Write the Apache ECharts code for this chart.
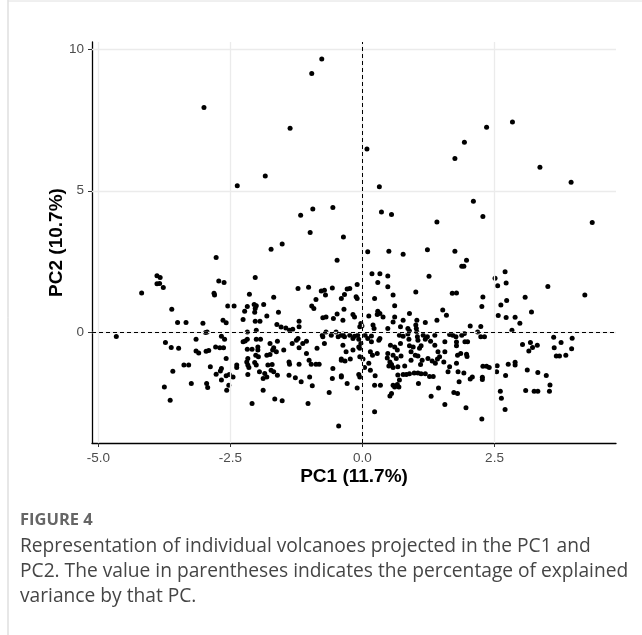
<!DOCTYPE html>
<html lang="en">
<head>
    <meta charset="UTF-8">
    <title>Figure 4 - PCA individuals</title>
    <style>
        html, body {
            margin: 0;
            padding: 0;
            background: #ffffff;
        }
        #chart {
            width: 642px;
            height: 635px;
        }
    </style>
</head>
<body>
    <div id="chart"></div>

    <script src="https://cdn.jsdelivr.net/npm/echarts@6/dist/echarts.min.js"></script>
    <script>
        // tick values for both axes
        var pc1Ticks = [-5, -2.5, 0, 2.5];
        var pc2Ticks = [0, 5, 10];

        var pc1Title = 'PC1 (11.7%)';
        var pc2Title = 'PC2 (10.7%)';

        // individual volcano scores [PC1, PC2]
        var volcanoScores = [
            // outliers up top
            [-3.00, 7.94], [-0.77, 9.65], [-0.96, 9.14], [-1.37, 7.21], [-1.84, 5.52], [-2.37, 5.18],
            [-1.17, 4.14], [-0.94, 4.36], [-0.56, 4.41], [-0.99, 3.53], [-0.36, 3.37],
            [0.085, 6.47], [1.75, 6.14], [1.93, 6.71], [0.32, 5.14], [0.36, 4.25], [0.55, 4.16], [1.41, 3.90],
            [2.35, 7.24], [2.84, 7.43], [3.36, 5.83], [3.95, 5.30], [4.35, 3.88], [2.10, 4.63], [2.28, 4.09],
            // right side
            [1.75, 2.87], [1.97, 2.55], [1.88, 2.34], [1.92, 2.34], [1.78, 1.39], [2.51, 1.91], [2.56, 1.65],
            [2.70, 2.14], [2.72, 1.75], [3.51, 1.62], [4.21, 1.32], [2.28, 1.25], [2.26, 0.92], [2.62, 0.97],
            [2.73, 1.13], [3.08, 1.24], [3.20, 0.72], [2.57, 0.60], [2.72, 0.53], [2.89, 0.54], [2.98, 0.33],
            [2.83, 0.08], [2.04, 0.23], [2.24, 0.21], [2.18, 0.02], [1.93, -0.04], [2.24, -0.15], [2.31, -0.15],
            [1.77, -0.15], [1.78, -0.34], [1.78, -0.47], [1.94, -0.33], [1.99, -0.33], [3.03, -0.42], [3.18, -0.35],
            [3.31, -0.45], [3.22, -0.53], [3.15, -0.65], [3.62, -0.17], [3.76, -0.35], [3.97, -0.20], [3.63, -0.54],
            [3.96, -0.57], [3.67, -0.83], [3.73, -0.83], [3.85, -0.80], [1.86, -0.74], [1.97, -0.77], [1.98, -0.85],
            [2.28, -1.19], [2.35, -1.19], [2.40, -1.24], [2.55, -1.17], [2.54, -1.39], [2.76, -1.12], [2.89, -1.05],
            [2.89, -1.15], [2.71, -1.52], [3.12, -1.32], [3.32, -1.41], [3.48, -1.52], [3.55, -1.85], [3.54, -2.07],
            [3.09, -2.05], [3.25, -2.07], [3.32, -2.07], [1.92, -1.43], [1.83, -1.74], [2.04, -1.64], [2.08, -1.57],
            [2.27, -1.58], [2.27, -1.66], [1.80, -2.15], [2.61, -2.07], [2.63, -2.32], [1.96, -2.66], [2.70, -2.72],
            [2.26, -3.05],
            // far left
            [-2.77, 2.65], [-3.89, 2.00], [-3.83, 1.94], [-3.89, 1.72], [-3.84, 1.73], [-3.77, 1.59], [-4.18, 1.39],
            [-2.80, 1.32], [-2.81, 1.38], [-3.61, 0.82], [-3.50, 0.35], [-3.34, 0.35], [-3.02, 0.33], [-2.97, 0.00],
            [-2.94, 0.02], [-4.66, -0.14], [-3.15, -0.24], [-3.73, -0.35], [-3.62, -0.53], [-3.48, -0.56],
            [-3.15, -0.65], [-3.10, -0.72], [-2.96, -0.66], [-2.91, -0.64], [-2.78, -0.51], [-3.38, -1.15],
            [-3.29, -1.15], [-3.59, -1.37], [-2.88, -1.21], [-2.77, -1.47], [-3.24, -1.80], [-2.95, -1.80],
            [-2.93, -1.94], [-3.75, -1.92], [-3.64, -2.39],
            // left of centre, above zero
            [-1.73, 2.94], [-1.52, 3.12], [-0.48, 2.55], [-2.03, 1.94], [-2.72, 1.82], [-2.62, 1.76], [-2.14, 1.35],
            [-1.68, 1.24], [-1.22, 1.55], [-1.02, 1.60], [-0.78, 1.46], [-0.72, 1.49], [-0.70, 1.32], [-0.88, 1.16],
            [-0.57, 1.57], [-0.40, 1.20], [-0.96, 0.93], [-0.92, 0.85], [-2.55, 0.93], [-2.43, 0.93], [-2.18, 0.92],
            [-2.23, 0.75], [-2.05, 0.99], [-2.01, 0.94], [-2.03, 0.85], [-2.04, 0.71], [-1.87, 0.99], [-1.81, 0.58],
            [-1.59, 0.71], [-2.64, 0.43], [-2.58, 0.34], [-2.26, 0.46], [-2.03, 0.40], [-1.94, 0.40], [-1.62, 0.28],
            [-1.54, 0.19], [-1.45, 0.16], [-1.38, 0.08], [-1.32, 0.11], [-1.20, 0.40], [-1.20, 0.20], [-0.75, 0.52],
            [-0.69, 0.55], [-0.55, 0.49], [-0.48, 0.65], [-2.67, -0.13], [-2.18, 0.02], [-2.01, 0.08], [-0.76, -0.10],
            [-0.69, 0.02], [-0.59, -0.10], [-0.50, 0.02], [-0.40, -0.10], [-2.61, -0.24], [-2.18, -0.24],
            [-2.01, -0.24], [-1.93, -0.24],
            // left of centre, below zero
            [-2.70, -0.54], [-2.63, -0.54], [-2.58, -0.92], [-2.67, -1.27], [-2.69, -1.36], [-2.67, -1.68],
            [-2.58, -1.53], [-2.52, -1.48], [-2.45, -1.57], [-2.53, -1.86], [-2.57, -2.04], [-2.38, -1.15],
            [-2.38, -1.24], [-2.26, -0.33], [-2.22, -0.30], [-2.18, -0.59], [-2.09, -0.59], [-2.17, -0.92],
            [-2.19, -1.04], [-2.17, -1.15], [-2.15, -1.24], [-2.17, -1.48], [-1.98, -0.51], [-1.98, -0.62],
            [-2.02, -0.80], [-1.97, -0.86], [-2.01, -1.15], [-2.04, -1.06], [-1.95, -1.39], [-1.85, -1.45],
            [-1.81, -1.57], [-1.88, -1.62], [-1.88, -2.04], [-2.09, -2.51], [-1.75, -0.39], [-1.68, -0.54],
            [-1.63, -0.68], [-1.70, -0.62], [-1.61, -0.31], [-1.81, -0.80], [-1.75, -0.78], [-1.79, -1.15],
            [-1.71, -1.13], [-1.73, -1.33], [-1.68, -1.39], [-1.61, -1.51], [-1.66, -2.35], [-1.52, -2.41],
            [-1.49, -0.62], [-1.39, -1.04], [-1.38, -1.12], [-1.39, -1.51], [-1.33, -0.39], [-1.25, -0.27],
            [-1.22, -0.21], [-1.20, -0.54], [-1.20, -1.12], [-1.27, -1.60], [-1.16, -1.74], [-1.13, -0.39],
            [-1.06, -0.31], [-1.06, -0.74], [-1.01, -0.98], [-0.97, -1.12], [-1.00, -1.57], [-0.95, -1.88],
            [-1.03, -2.51], [-0.86, -0.56], [-0.88, -1.12], [-0.82, -1.12], [-0.75, -0.15], [-0.72, -0.39],
            [-0.46, -0.15], [-0.40, -0.94], [-0.40, -1.53], [-0.56, -1.27], [-0.57, -1.62], [-0.63, -2.12],
            [-0.45, -3.30],
            // centre-right, above zero
            [0.10, 2.85], [0.50, 2.87], [0.77, 2.76], [1.23, 2.92], [0.18, 2.07], [0.33, 2.07], [0.48, 1.99],
            [0.29, 1.76], [0.48, 1.61], [1.26, 1.98], [-0.24, 1.55], [-0.29, 1.53], [-0.10, 1.69], [-0.34, 1.34],
            [-0.12, 1.26], [-0.10, 1.20], [0.23, 1.20], [0.58, 1.32], [1.01, 1.43], [1.70, 1.38], [0.61, 0.94],
            [-0.35, 0.82], [-0.18, 0.63], [-0.15, 0.55], [-0.37, 0.43], [0.12, 0.58], [0.29, 0.75], [0.33, 0.67],
            [0.28, 0.63], [0.39, 0.55], [0.61, 0.55], [0.58, 0.37], [0.89, 0.67], [0.77, 0.43], [1.03, 0.43],
            [1.01, 0.26], [1.19, 0.35], [1.41, 0.43], [1.52, 0.79], [1.59, 0.61], [-0.03, 0.32], [-0.01, 0.23],
            [-0.05, 0.20], [0.20, 0.26], [0.22, 0.14], [0.48, 0.14], [0.72, 0.20], [0.86, 0.14], [0.89, 0.05],
            [1.02, 0.14], [1.03, 0.02], [-0.37, -0.05], [-0.24, -0.10], [-0.15, -0.13], [-0.09, -0.10],
            [0.05, -0.10], [0.10, -0.21], [0.17, -0.12], [0.33, -0.21], [0.70, -0.10], [0.77, -0.13], [0.86, -0.05],
            [1.04, -0.15], [1.15, -0.10], [1.23, -0.15], [1.37, -0.10], [1.65, -0.07], [1.71, -0.10], [1.88, -0.10],
            // centre-right, below zero
            [-0.34, -0.15], [-0.18, -0.21], [-0.07, -0.24], [-0.37, -0.45], [-0.18, -0.62], [-0.31, -0.68],
            [-0.07, -0.51], [-0.05, -0.56], [-0.03, -0.39], [0.17, -0.33], [0.15, -0.68], [0.31, -0.27],
            [0.28, -0.74], [0.19, -0.80], [-0.40, -0.98], [-0.33, -1.01], [-0.23, -0.94], [-0.05, -0.86],
            [0.01, -0.94], [0.12, -1.09], [0.04, -1.24], [0.15, -1.33], [-0.40, -1.57], [-0.07, -1.48],
            [-0.05, -1.57], [-0.29, -1.80], [-0.10, -1.96], [0.24, -1.53], [0.23, -1.86], [0.34, -1.86],
            [0.23, -2.80], [0.53, -0.45], [0.61, -0.51], [0.66, -0.62], [0.48, -0.74], [0.58, -0.80], [0.64, -0.92],
            [0.47, -0.90], [0.52, -1.04], [0.55, -1.13], [0.58, -1.24], [0.50, -1.18], [0.67, -1.21], [0.80, -1.18],
            [0.72, -0.39], [0.73, -0.83], [0.88, -0.24], [0.89, -0.47], [0.96, -0.51], [0.92, -0.68], [1.00, -0.80],
            [1.05, -0.83], [0.92, -0.98], [1.05, -0.27], [1.11, -0.47], [1.08, -0.56], [1.19, -0.24], [1.29, -0.31],
            [1.24, -0.92], [1.32, -1.01], [1.38, -1.09], [1.13, -0.98], [1.10, -1.13], [1.37, -0.45], [1.43, -0.68],
            [1.46, -0.86], [1.42, -0.94], [1.56, -0.33], [1.56, -0.68], [1.54, -1.04], [1.65, -1.21], [1.62, -1.39],
            [1.80, -0.80], [1.78, -1.09], [1.81, -1.39], [0.67, -1.50], [0.77, -1.48], [0.83, -1.48], [0.89, -1.46],
            [0.98, -1.43], [1.05, -1.43], [1.11, -1.46], [1.19, -1.46], [1.27, -1.55], [1.34, -1.55], [0.70, -1.68],
            [0.66, -1.84], [0.58, -1.86], [0.61, -1.92], [0.69, -1.92], [0.55, -2.15], [0.52, -2.24], [1.06, -1.80],
            [1.30, -2.25], [1.44, -1.96], [1.56, -2.54], [1.73, -2.12]
        ];

        var captionLines = [
            'Representation of individual volcanoes projected in the PC1 and',
            'PC2. The value in parentheses indicates the percentage of explained',
            'variance by that PC.'
        ];

        var chart = echarts.init(document.getElementById('chart'), null, { renderer: 'canvas' });

        var tickFont = { color: '#4d4d4d', fontSize: 13.5, fontFamily: 'Liberation Sans, Arial, sans-serif' };
        var titleFont = { color: '#000', fontSize: 19, fontWeight: 'bold', fontFamily: 'Liberation Sans, Arial, sans-serif' };

        var option = {
            backgroundColor: '#ffffff',
            animation: false,
            grid: {
                left: 92,
                right: 26,
                top: 42,
                bottom: 192
            },
            xAxis: {
                type: 'value',
                min: -5.12,
                max: 4.8,
                name: pc1Title,
                nameLocation: 'middle',
                nameGap: 24,
                nameMoveOverlap: false,
                nameTextStyle: titleFont,
                axisLine: { show: true, onZero: false, lineStyle: { color: '#000', width: 1.3 } },
                axisTick: { show: true, customValues: pc1Ticks, length: 4, lineStyle: { color: '#333', width: 1 } },
                axisLabel: Object.assign({ customValues: pc1Ticks, margin: 8, formatter: function (v) { return v.toFixed(1); } }, tickFont),
                splitLine: { show: false }
            },
            yAxis: {
                type: 'value',
                min: -3.9,
                max: 10.25,
                name: pc2Title,
                nameLocation: 'middle',
                nameGap: 26,
                nameMoveOverlap: false,
                nameRotate: 90,
                nameTextStyle: titleFont,
                axisLine: { show: true, onZero: false, lineStyle: { color: '#000', width: 1.3 } },
                axisTick: { show: true, customValues: pc2Ticks, length: 4, lineStyle: { color: '#333', width: 1 } },
                axisLabel: Object.assign({ customValues: pc2Ticks, margin: 8, formatter: function (v) { return String(v); } }, tickFont),
                splitLine: { show: false }
            },
            graphic: [
                { type: 'line', shape: { x1: 8, y1: 0, x2: 8, y2: 635 }, style: { stroke: '#cfcfcf', lineWidth: 1 } },
                { type: 'line', shape: { x1: 8, y1: 1, x2: 642, y2: 1 }, style: { stroke: '#e0e0e0', lineWidth: 1 } },
                {
                    type: 'text', left: 20, top: 512,
                    style: { text: 'FIGURE 4', fill: '#666', font: 'bold 16.5px "Open Sans", sans-serif' }
                },
                {
                    type: 'text', left: 20, top: 534,
                    style: {
                        text: captionLines.join('\n'),
                        fill: '#454545',
                        font: '19.2px "Open Sans", sans-serif',
                        lineHeight: 25
                    }
                }
            ],
            series: [
                {
                    // panel grid lines
                    type: 'scatter',
                    data: [],
                    z: 1,
                    silent: true,
                    markLine: {
                        silent: true,
                        symbol: ['none', 'none'],
                        label: { show: false },
                        lineStyle: { color: '#ebebeb', width: 1.3, type: 'solid' },
                        data: pc1Ticks.map(function (t) { return { xAxis: t }; })
                            .concat(pc2Ticks.map(function (t) { return { yAxis: t }; }))
                    }
                },
                {
                    // zero reference lines
                    type: 'scatter',
                    data: [],
                    z: 2,
                    silent: true,
                    markLine: {
                        silent: true,
                        symbol: ['none', 'none'],
                        label: { show: false },
                        lineStyle: { color: '#000', width: 1, type: [4, 3] },
                        data: [{ xAxis: 0 }, { yAxis: 0 }]
                    }
                },
                {
                    name: 'volcanoes',
                    type: 'scatter',
                    z: 3,
                    symbol: 'circle',
                    symbolSize: 5,
                    itemStyle: { color: '#000', opacity: 1 },
                    data: volcanoScores
                }
            ]
        };

        chart.setOption(option);
    </script>
</body>
</html>
